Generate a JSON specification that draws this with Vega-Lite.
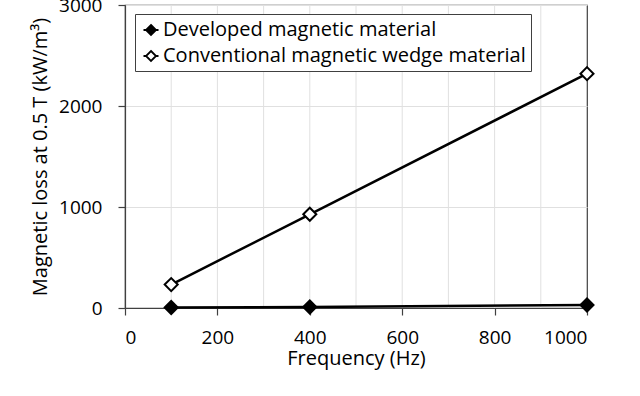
{
  "$schema": "https://vega.github.io/schema/vega-lite/v6.json",
  "width": 462,
  "height": 303,
  "autosize": "none",
  "padding": {"left": 125, "top": 5, "right": 53, "bottom": 88},
  "config": {
    "font": "Open Sans",
    "view": {"stroke": "#404040", "strokeWidth": 1.2},
    "axis": {
      "labelFontSize": 19,
      "titleFontSize": 20,
      "titleFontWeight": "normal",
      "labelColor": "black",
      "titleColor": "black",
      "domainColor": "#404040",
      "domainWidth": 1.2,
      "tickColor": "#404040",
      "tickWidth": 1.2,
      "tickSize": 7,
      "gridColor": "#e0e0e0",
      "gridWidth": 1,
      "format": "d"
    }
  },
  "data": {
    "values": [
      {"f": 100, "loss": 5, "series": "Developed magnetic material"},
      {"f": 400, "loss": 10, "series": "Developed magnetic material"},
      {"f": 1000, "loss": 30, "series": "Developed magnetic material"},
      {"f": 100, "loss": 232, "series": "Conventional magnetic wedge material"},
      {"f": 400, "loss": 928, "series": "Conventional magnetic wedge material"},
      {"f": 1000, "loss": 2320, "series": "Conventional magnetic wedge material"}
    ]
  },
  "encoding": {
    "x": {
      "field": "f",
      "type": "quantitative",
      "scale": {"domain": [0, 1000], "nice": false},
      "axis": {
        "values": [0, 200, 400, 600, 800, 1000],
        "format": "d",
        "grid": false,
        "title": "Frequency (Hz)",
        "labelPadding": 13,
        "titlePadding": 1
      }
    }
  },
  "layer": [
    {
      "data": {"values": [{"f": 100}, {"f": 200}, {"f": 300}, {"f": 400}, {"f": 500}, {"f": 600}, {"f": 700}, {"f": 800}, {"f": 900}]},
      "mark": {"type": "rule", "color": "#e0e0e0", "strokeWidth": 1}
    },
    {
      "mark": {"type": "line", "color": "black", "strokeWidth": 2.5},
      "encoding": {
        "y": {
          "field": "loss",
          "type": "quantitative",
          "scale": {"domain": [0, 3000], "nice": false},
          "axis": {
            "values": [0, 1000, 2000, 3000],
            "format": "d",
            "grid": true,
            "title": "Magnetic loss at 0.5 T (kW/m³)",
            "labelPadding": 16,
            "titlePadding": 8
          }
        },
        "detail": {"field": "series"}
      }
    },
    {
      "mark": {"type": "point", "shape": "diamond", "size": 170, "stroke": "black", "strokeWidth": 2, "opacity": 1},
      "encoding": {
        "y": {"field": "loss", "type": "quantitative"},
        "fill": {
          "field": "series",
          "type": "nominal",
          "scale": {
            "domain": ["Developed magnetic material", "Conventional magnetic wedge material"],
            "range": ["black", "white"]
          },
          "legend": {
            "title": null,
            "orient": "none",
            "legendX": 10,
            "legendY": 9,
            "strokeColor": "#404040",
            "fillColor": "white",
            "padding": 5,
            "labelFontSize": 20,
            "labelColor": "black",
            "labelOffset": 1,
            "symbolType": "M-0.75,0L-0.5,0M0.5,0L0.75,0M0,-0.5L0.5,0L0,0.5L-0.5,0Z",
            "symbolSize": 400,
            "symbolStrokeColor": "black",
            "symbolStrokeWidth": 1.8,
            "rowPadding": 5,
            "labelLimit": 500
          }
        }
      }
    }
  ]
}
